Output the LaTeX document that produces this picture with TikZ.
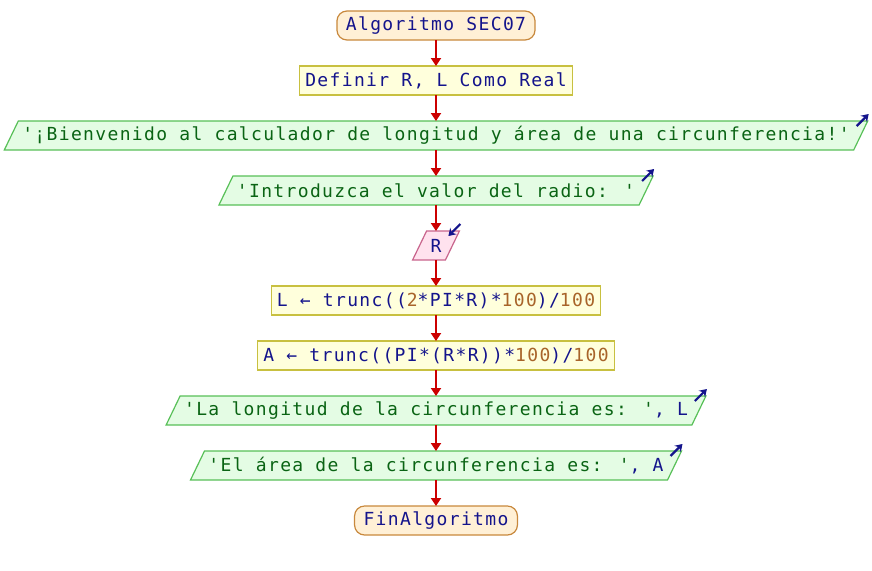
\documentclass[tikz,border=0pt]{standalone}
\usepackage{fontspec}
\newfontfamily\psfont[LetterSpace=7.5,Ligatures=TeXOff]{DejaVu Sans Mono}
\usetikzlibrary{positioning,arrows.meta,backgrounds}
\definecolor{azul}{HTML}{14148C}
\definecolor{cadena}{HTML}{0A6414}
\definecolor{numero}{HTML}{A8642A}
\definecolor{rojo}{HTML}{CC0000}
\definecolor{termfondo}{HTML}{FFF0D6}
\definecolor{termborde}{HTML}{C8883C}
\definecolor{cajafondo}{HTML}{FFFFDC}
\definecolor{cajaborde}{HTML}{C8C040}
\definecolor{salfondo}{HTML}{E4FCE4}
\definecolor{salborde}{HTML}{58C058}
\definecolor{entfondo}{HTML}{FFE2EE}
\definecolor{entborde}{HTML}{C8648C}
\tikzset{
    %Define standard arrow tip
    >={Triangle[length=8pt,width=10pt]},
    %Define style for the texts
    texto/.style={
           font=\psfont\fontsize{18}{21}\selectfont,
           text=azul,
           minimum height=29pt,
           inner ysep=0pt,
           outer sep=0pt},
    %Define style for start and end
    inicio/.style={
           texto,
           rectangle,
           rounded corners=10pt,
           draw=termborde, line width=1.2pt,
           fill=termfondo,
           inner xsep=9pt},
    %Define style for boxes
    caja/.style={
           texto,
           rectangle,
           draw=cajaborde, line width=1.2pt,
           fill=cajafondo,
           inner xsep=5.5pt},
    salida/.style={texto, inner xsep=11pt},
    entrada/.style={texto, inner xsep=11pt},
    fondosalida/.style={fill=salfondo, draw=salborde, line width=1.2pt},
    fondoentrada/.style={fill=entfondo, draw=entborde, line width=1.2pt},
    % Define arrow styles
    flecha/.style={
           ->,
           draw=rojo,
           line width=2pt},
    aviso/.style={
           -{Stealth[length=7pt,width=9pt]},
           draw=azul,
           line width=2.2pt}
}

\begin{document}
\begin{tikzpicture}[node distance=26pt]
\useasboundingbox (0,0) rectangle (872pt,-570pt);
\node [inicio] (ini) at (436pt,-25.5pt) {Algoritmo SEC07};
\node [caja,below=of ini] (def) {Definir R, L Como Real};
\node [salida,below=of def] (bien) {\textcolor{cadena}{'¡Bienvenido al calculador de longitud y área de una circunferencia!'}};
\node [salida,below=of bien] (intro) {\textcolor{cadena}{'Introduzca el valor del radio: '}};
\node [entrada,below=of intro] (leer) {R};
\node [caja,below=of leer] (long) {L ← trunc((\textcolor{numero}{2}*PI*R)*\textcolor{numero}{100})/\textcolor{numero}{100}};
\node [caja,below=of long] (area) {A ← trunc((PI*(R*R))*\textcolor{numero}{100})/\textcolor{numero}{100}};
\node [salida,below=of area] (mlong) {\textcolor{cadena}{'La longitud de la circunferencia es: '}, L};
\node [salida,below=of mlong] (marea) {\textcolor{cadena}{'El área de la circunferencia es: '}, A};
\node [inicio,below=of marea] (fin) {FinAlgoritmo};
% parallelograms behind the texts
\begin{scope}[on background layer]
\foreach \n in {bien,intro,mlong,marea}
  \filldraw[fondosalida] ([xshift=7pt]\n.north west) -- ([xshift=7pt]\n.north east)
    -- ([xshift=-7pt]\n.south east) -- ([xshift=-7pt]\n.south west) -- cycle;
\filldraw[fondoentrada] ([xshift=7pt]leer.north west) -- ([xshift=7pt]leer.north east)
    -- ([xshift=-7pt]leer.south east) -- ([xshift=-7pt]leer.south west) -- cycle;
\end{scope}
\foreach \a/\b in {ini/def,def/bien,bien/intro,intro/leer,leer/long,long/area,area/mlong,mlong/marea,marea/fin}
  \draw[flecha] (\a) -- (\b);
\foreach \n in {bien,intro,mlong,marea}
  \draw[aviso] ([xshift=-4pt,yshift=-5pt]\n.north east) -- ([xshift=8pt,yshift=7pt]\n.north east);
\draw[aviso] ([xshift=8pt,yshift=7pt]leer.north east) -- ([xshift=-4pt,yshift=-5pt]leer.north east);
\end{tikzpicture}
\end{document}
